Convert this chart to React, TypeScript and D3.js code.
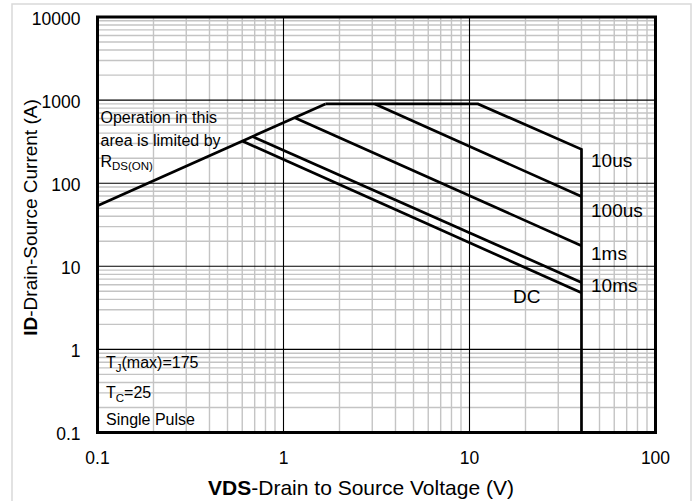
import React from "react";
import * as d3 from "d3";

type Pt = { v: number; i: number };

// Axis ticks
const xTicks = [0.1, 1, 10, 100];
const yTicks = [0.1, 1, 10, 100, 1000, 10000];

// SOA curves (VDS in V, ID in A)
const rdsLimit: Pt[] = [{ v: 0.1, i: 53.5 }, { v: 1.68, i: 900 }];
const pulse10us: Pt[] = [{ v: 1.68, i: 900 }, { v: 11.1, i: 900 }, { v: 40, i: 256 }, { v: 40, i: 0.1 }];
const pulse100us: Pt[] = [{ v: 3.1, i: 900 }, { v: 40, i: 69 }];
const pulse1ms: Pt[] = [{ v: 1.15, i: 615 }, { v: 40, i: 17.7 }];
const pulse10ms: Pt[] = [{ v: 0.68, i: 365 }, { v: 40, i: 6.4 }];
const dcLine: Pt[] = [{ v: 0.6, i: 322 }, { v: 40, i: 4.8 }];

const curves = [rdsLimit, pulse10us, pulse100us, pulse1ms, pulse10ms, dcLine];
const curveLabels = ["10us", "100us", "1ms", "10ms", "DC"];

const W = 700;
const H = 501;
const L = 97.5, R = 655.5, T = 17, B = 432.5;
const FONT = "'Liberation Sans', Arial, sans-serif";

export default function App() {
  const x = d3.scaleLog().domain([0.1, 100]).range([L, R]);
  const y = d3.scaleLog().domain([0.1, 10000]).range([B, T]);

  const minorX: number[] = [];
  const minorY: number[] = [];
  for (let d = 0.1; d < 100; d *= 10) for (let k = 2; k <= 9; k++) minorX.push(+(d * k).toPrecision(3));
  for (let d = 0.1; d < 10000; d *= 10) for (let k = 2; k <= 9; k++) minorY.push(+(d * k).toPrecision(3));

  const line = d3.line<Pt>().x((p) => x(p.v)).y((p) => y(p.i));

  const labelPos: [number, number][] = [
    [591, 166.5],
    [591, 216.5],
    [591, 260],
    [591, 291.5],
    [513, 302.5],
  ];

  return (
    <svg width={W} height={H} style={{ position: "absolute", left: 0, top: 0, background: "#fff" }} fontFamily={FONT}>
      <rect x={0} y={0} width={W} height={H} fill="#fff" />
      <rect x={12} y={4} width={679} height={520} fill="#fff" stroke="#d9d9d9" strokeWidth={1.5} />
      {/* minor grid */}
      {minorX.map((v) => (
        <line key={"mx" + v} x1={x(v)} x2={x(v)} y1={T} y2={B} stroke="#c4c4c4" strokeWidth={1.4} />
      ))}
      {minorY.map((v) => (
        <line key={"my" + v} x1={L} x2={R} y1={y(v)} y2={y(v)} stroke="#c4c4c4" strokeWidth={1.4} />
      ))}
      {/* major grid */}
      {xTicks.map((v) => (
        <line key={"Mx" + v} x1={x(v)} x2={x(v)} y1={T} y2={B} stroke="#000" strokeWidth={1.1} />
      ))}
      {yTicks.map((v) => (
        <line key={"My" + v} x1={L} x2={R} y1={y(v)} y2={y(v)} stroke="#000" strokeWidth={1.1} />
      ))}
      {/* curves */}
      {curves.map((c, idx) => (
        <path key={"c" + idx} d={line(c) || ""} fill="none" stroke="#000" strokeWidth={2.7} strokeLinejoin="miter" />
      ))}
      {/* plot border */}
      <rect x={L} y={T} width={R - L} height={B - T} fill="none" stroke="#000" strokeWidth={3} />
      {/* tick labels */}
      {yTicks.map((v) => (
        <text key={"yt" + v} x={80.5} y={y(v) + 7.5} textAnchor="end" fontSize={17.5} fill="#000">
          {String(v)}
        </text>
      ))}
      {xTicks.map((v) => (
        <text key={"xt" + v} x={x(v)} y={463.5} textAnchor="middle" fontSize={17.5} fill="#000">
          {String(v)}
        </text>
      ))}
      {/* curve labels */}
      {curveLabels.map((s, k) => (
        <text key={"cl" + s} x={labelPos[k][0]} y={labelPos[k][1]} fontSize={19} fill="#000">
          {s}
        </text>
      ))}
      {/* annotations */}
      <g fontSize={16} fill="#000">
        <text x={100.5} y={122.5}>Operation in this</text>
        <text x={100.5} y={146}>area is limited by</text>
        <text x={100.5} y={166.5}>
          R<tspan fontSize={11.5} dy={3.5}>DS(ON)</tspan>
        </text>
        <text x={106} y={368}>
          T<tspan fontSize={11.5} dy={3.5}>J</tspan>
          <tspan dy={-3.5}>(max)=175</tspan>
        </text>
        <text x={106} y={398}>
          T<tspan fontSize={11.5} dy={3.5}>C</tspan>
          <tspan dy={-3.5}>=25</tspan>
        </text>
        <text x={106} y={424.5}>Single Pulse</text>
      </g>
      {/* axis titles */}
      <text x={361} y={495} textAnchor="middle" fontSize={21} fill="#000">
        <tspan fontWeight="bold">VDS</tspan>-Drain to Source Voltage (V)
      </text>
      <text transform="translate(37,217.5) rotate(-90)" textAnchor="middle" fontSize={19} fill="#000">
        <tspan fontWeight="bold">ID</tspan>-Drain-Source Current (A)
      </text>
    </svg>
  );
}
